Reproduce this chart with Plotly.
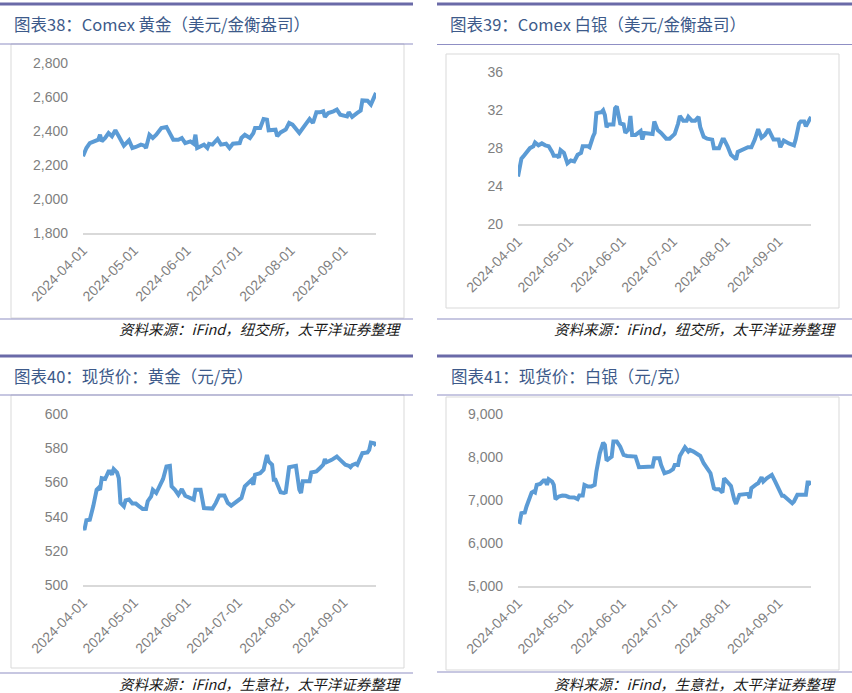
import plotly.graph_objects as go
import pandas as pd

W, H = 852, 693
START = pd.Timestamp("2024-04-01")
END = "2024-09-20"

# ---------------- data (days since 2024-04-01, values) ----------------
comex_gold_days = [0, 2, 4, 7, 9, 10, 11, 13, 15, 17, 19, 21, 23, 24, 27, 29, 31, 34, 36, 37,
                   39, 41, 43, 46, 49, 51, 53, 56, 58, 60, 63, 65, 66, 67, 69, 71, 73, 74, 76, 79,
                   81, 84, 86, 88, 92, 93, 95, 98, 100, 101, 104, 106, 108, 109, 113, 114, 116, 119, 121, 123,
                   127, 129, 133, 135, 137, 139, 141, 142, 144, 147, 149, 151, 154, 155, 156, 158, 161, 163, 164, 167,
                   169, 172]
comex_gold_vals = [2251, 2300, 2329, 2339, 2349, 2378, 2339, 2359, 2388, 2369, 2404, 2369, 2329, 2314, 2345, 2300, 2306, 2320, 2314, 2300,
                   2378, 2359, 2378, 2418, 2424, 2388, 2349, 2349, 2359, 2329, 2339, 2325, 2378, 2300, 2310, 2320, 2300, 2325, 2320, 2353,
                   2320, 2325, 2300, 2325, 2329, 2359, 2378, 2359, 2388, 2418, 2418, 2471, 2467, 2404, 2408, 2369, 2392, 2408, 2447, 2437,
                   2388, 2418, 2471, 2447, 2510, 2510, 2516, 2483, 2506, 2516, 2526, 2496, 2490, 2486, 2510, 2483, 2506, 2520, 2580, 2578,
                   2555, 2624]

comex_silver_days = [0, 2, 3, 5, 7, 9, 10, 12, 14, 16, 18, 20, 21, 23, 24, 25, 27, 29, 31, 33,
                     35, 37, 38, 41, 42, 44, 45, 46, 49, 50, 51, 52, 53, 56, 57, 58, 60, 62, 63, 65,
                     66, 67, 69, 72, 73, 74, 77, 79, 80, 82, 84, 87, 89, 91, 92, 94, 95, 97, 99, 100,
                     102, 104, 106, 107, 109, 111, 114, 115, 118, 120, 121, 123, 125, 127, 128, 129, 132, 135, 137, 139,
                     141, 143, 145, 147, 150, 153, 154, 156, 159, 162, 163, 165, 166, 168, 169, 171, 172]
comex_silver_vals = [25.0, 26.9, 27.1, 27.6, 28.0, 28.2, 28.6, 28.3, 28.5, 28.3, 28.2, 27.6, 27.2, 27.2, 27.0, 27.8, 27.5, 26.4, 26.7, 26.6,
                     27.3, 27.5, 28.2, 28.2, 28.1, 29.2, 29.6, 31.7, 31.8, 32.0, 31.5, 30.2, 30.5, 30.5, 32.2, 32.4, 30.6, 30.5, 29.6, 30.0,
                     31.4, 29.4, 29.4, 29.8, 28.9, 29.6, 29.6, 29.5, 30.8, 29.9, 29.6, 29.0, 29.0, 29.3, 29.5, 30.6, 31.4, 30.9, 30.9, 31.3,
                     30.9, 30.9, 31.3, 30.2, 29.2, 29.0, 28.9, 28.0, 28.0, 28.9, 28.9, 28.2, 27.3, 27.0, 26.8, 27.6, 27.9, 28.1, 28.1, 28.9,
                     30.0, 29.1, 29.4, 30.0, 28.9, 28.9, 28.1, 28.8, 28.5, 28.3, 28.9, 30.6, 30.8, 30.8, 30.3, 31.1, 31.3]

spot_gold_days = [0, 1, 2, 4, 6, 8, 9, 10, 11, 13, 15, 16, 17, 18, 20, 21, 22, 24, 25, 27,
                  29, 31, 33, 35, 37, 38, 40, 41, 43, 45, 47, 49, 51, 52, 54, 56, 58, 60, 63, 65,
                  66, 69, 71, 73, 76, 78, 80, 83, 85, 87, 90, 93, 95, 97, 99, 100, 101, 104, 106, 108,
                  109, 111, 112, 113, 116, 118, 119, 121, 123, 125, 127, 128, 129, 133, 134, 137, 139, 141, 142, 143,
                  146, 149, 151, 154, 156, 157, 158, 160, 161, 163, 164, 167, 168, 169, 171, 172]
spot_gold_vals = [532.8, 533.0, 537.9, 538.2, 546.0, 555.7, 556.7, 555.7, 562.5, 562.0, 566.4, 566.4, 564.5, 567.8, 565.8, 562.5, 548.0, 546.0, 549.5, 550.0,
                  547.6, 547.6, 546.0, 544.5, 544.5, 549.0, 551.8, 555.7, 553.8, 557.7, 562.0, 569.3, 569.7, 557.7, 555.7, 552.8, 556.1, 552.2, 550.9, 549.9,
                  555.7, 555.7, 545.0, 544.7, 544.7, 548.0, 552.4, 552.4, 548.0, 546.4, 549.0, 550.9, 557.7, 560.0, 561.5, 558.6, 564.5, 565.4, 567.4, 576.1,
                  572.2, 570.3, 561.5, 561.5, 554.2, 553.8, 554.2, 568.9, 569.3, 569.7, 555.7, 553.8, 560.6, 560.6, 565.8, 566.4, 568.3, 570.3, 573.6, 571.8,
                  573.2, 575.1, 573.2, 570.3, 569.7, 568.9, 570.1, 570.9, 570.3, 574.2, 577.1, 577.5, 579.0, 583.3, 582.9, 581.4]

spot_silver_days = [0, 1, 2, 4, 5, 8, 9, 10, 11, 13, 15, 16, 17, 18, 20, 21, 22, 24, 26, 28,
                    30, 33, 35, 36, 38, 39, 41, 43, 45, 46, 48, 50, 51, 52, 53, 55, 56, 58, 60, 62,
                    64, 67, 69, 71, 73, 77, 79, 80, 83, 84, 86, 89, 91, 92, 94, 95, 97, 98, 100, 101,
                    103, 105, 107, 109, 111, 113, 115, 116, 118, 120, 121, 123, 125, 127, 128, 130, 133, 135, 136, 137,
                    140, 141, 143, 144, 146, 148, 149, 151, 153, 155, 156, 158, 161, 162, 164, 167, 169, 170, 171, 172]
spot_silver_vals = [6497, 6480, 6690, 6706, 6846, 7171, 7194, 7171, 7349, 7372, 7450, 7450, 7349, 7481, 7427, 7349, 7016, 7078, 7101, 7094,
                    7062, 7055, 7016, 7101, 7101, 7349, 7310, 7310, 7349, 7659, 8085, 8334, 8280, 7915, 7946, 8008, 8357, 8357, 8240, 8047,
                    8023, 8023, 8008, 7760, 7760, 7760, 7775, 7969, 7969, 7814, 7620, 7659, 7713, 7814, 7814, 8023, 8163, 8225, 8124, 8163,
                    8124, 8070, 8023, 7853, 7713, 7620, 7272, 7249, 7249, 7171, 7504, 7427, 7326, 7000, 6907, 7117, 7117, 7140, 7039, 7272,
                    7365, 7388, 7527, 7427, 7504, 7558, 7582, 7427, 7249, 7094, 7094, 7016, 6923, 6962, 7117, 7117, 7117, 7403, 7403, 7349]

month_ticks = ["2024-04-01", "2024-05-01", "2024-06-01", "2024-07-01", "2024-08-01", "2024-09-01"]

titles = ["图表38：Comex 黄金（美元/金衡盎司）", "图表39：Comex 白银（美元/金衡盎司）",
          "图表40：现货价：黄金（元/克）", "图表41：现货价：白银（元/克）"]
sources = ["资料来源：iFind，纽交所，太平洋证券整理", "资料来源：iFind，纽交所，太平洋证券整理",
           "资料来源：iFind，生意社，太平洋证券整理", "资料来源：iFind，生意社，太平洋证券整理"]

y_ranges = [(1800, 2800, 200), (20, 36, 4), (500, 600, 20), (5000, 9000, 1000)]
series = [(comex_gold_days, comex_gold_vals), (comex_silver_days, comex_silver_vals),
          (spot_gold_days, spot_gold_vals), (spot_silver_days, spot_silver_vals)]

# ---------------- layout geometry (pixels) ----------------
def fx(x):
    return x / W

def fy(y):
    return 1 - y / H

plot_boxes = [  # x0, x1, ytop, ybottom of the plotting area
    (83, 376, 63, 233),
    (518, 811, 72.3, 224),
    (83, 376, 414, 585),
    (518, 811, 414, 585.7),
]
panels = [
    dict(x0=0, x1=413, top=4, title=24, sub=44, box=(11, 404, 44, 318), srcline=319, src=329, tx=12, sx=404),
    dict(x0=437, x1=852, top=4, title=24, sub=44.5, box=(446, 839, 54, 308), srcline=319, src=329, tx=448, sx=839),
    dict(x0=0, x1=413, top=356, title=376, sub=395, box=(11, 404, 395, 668), srcline=673, src=683, tx=12, sx=404),
    dict(x0=437, x1=852, top=356, title=376, sub=395, box=(446, 839, 397, 670), srcline=672, src=683, tx=449, sx=839),
]

LINE_BLUE = "#5B9BD5"
TICK_GRAY = "#7F7F7F"
TITLE_BLUE = "#3D5A8A"
RULE_DARK = "#6A6AA8"
RULE_LIGHT = "#8F8FC4"
BOX_GRAY = "#D9D9D9"
FONT = "Liberation Sans, Arial, sans-serif"
CJK = "Noto Sans CJK SC"

fig = go.Figure()
shapes = []
annotations = []

for i in range(4):
    days, vals = series[i]
    dates = [START + pd.Timedelta(days=d) for d in days]
    xa = "x" if i == 0 else f"x{i+1}"
    ya = "y" if i == 0 else f"y{i+1}"
    fig.add_trace(go.Scatter(x=dates, y=vals, mode="lines", xaxis=xa, yaxis=ya,
                             line=dict(color=LINE_BLUE, width=4), showlegend=False,
                             hoverinfo="skip"))
    x0, x1, yt, yb = plot_boxes[i]
    lo, hi, step = y_ranges[i]
    key = "" if i == 0 else str(i + 1)
    fig.update_layout(**{
        f"xaxis{key}": dict(domain=[fx(x0), fx(x1)], anchor=ya, type="date",
                            range=[START.strftime("%Y-%m-%d"), END],
                            tickvals=month_ticks, ticktext=month_ticks, tickangle=-45,
                            tickfont=dict(family=FONT, size=14, color=TICK_GRAY),
                            showgrid=False, zeroline=False, showline=True,
                            linecolor=BOX_GRAY, linewidth=1.5, ticks="",
                            ticklabelstandoff=2, automargin=False, fixedrange=True),
        f"yaxis{key}": dict(domain=[fy(yb), fy(yt)], anchor=xa, range=[lo, hi], dtick=step,
                            tick0=lo, tickformat=",d",
                            tickfont=dict(family=FONT, size=14, color=TICK_GRAY),
                            showgrid=False, zeroline=False, showline=False, ticks="",
                            ticklabelstandoff=14, automargin=False, fixedrange=True),
    })

    p = panels[i]
    shapes.append(dict(type="line", xref="paper", yref="paper", x0=fx(p["x0"]), x1=fx(p["x1"]),
                       y0=fy(p["top"]), y1=fy(p["top"]), line=dict(color=RULE_DARK, width=3)))
    shapes.append(dict(type="line", xref="paper", yref="paper", x0=fx(p["x0"]), x1=fx(p["x1"]),
                       y0=fy(p["sub"]), y1=fy(p["sub"]), line=dict(color=RULE_LIGHT, width=1)))
    bx0, bx1, by0, by1 = p["box"]
    shapes.append(dict(type="rect", xref="paper", yref="paper", x0=fx(bx0), x1=fx(bx1),
                       y0=fy(by1), y1=fy(by0), line=dict(color=BOX_GRAY, width=1),
                       fillcolor="rgba(0,0,0,0)", layer="below"))
    shapes.append(dict(type="line", xref="paper", yref="paper", x0=fx(p["x0"]), x1=fx(p["x1"]),
                       y0=fy(p["srcline"]), y1=fy(p["srcline"]), line=dict(color=RULE_LIGHT, width=1.2)))
    annotations.append(dict(xref="paper", yref="paper", x=fx(p["tx"]), y=fy(p["title"]),
                            xanchor="left", yanchor="middle", showarrow=False, text=titles[i],
                            font=dict(family=CJK, size=16.5, color=TITLE_BLUE)))
    annotations.append(dict(xref="paper", yref="paper", x=fx(p["sx"]), y=fy(p["src"]),
                            xanchor="right", yanchor="middle", showarrow=False, text=sources[i],
                            font=dict(family=CJK, size=14.5, color="#1A1A1A", style="italic")))

fig.update_layout(width=W, height=H, margin=dict(l=0, r=0, t=0, b=0, autoexpand=False),
                  paper_bgcolor="white", plot_bgcolor="white",
                  shapes=shapes, annotations=annotations, showlegend=False)

fig.write_html("out.html", config={"displayModeBar": False})
